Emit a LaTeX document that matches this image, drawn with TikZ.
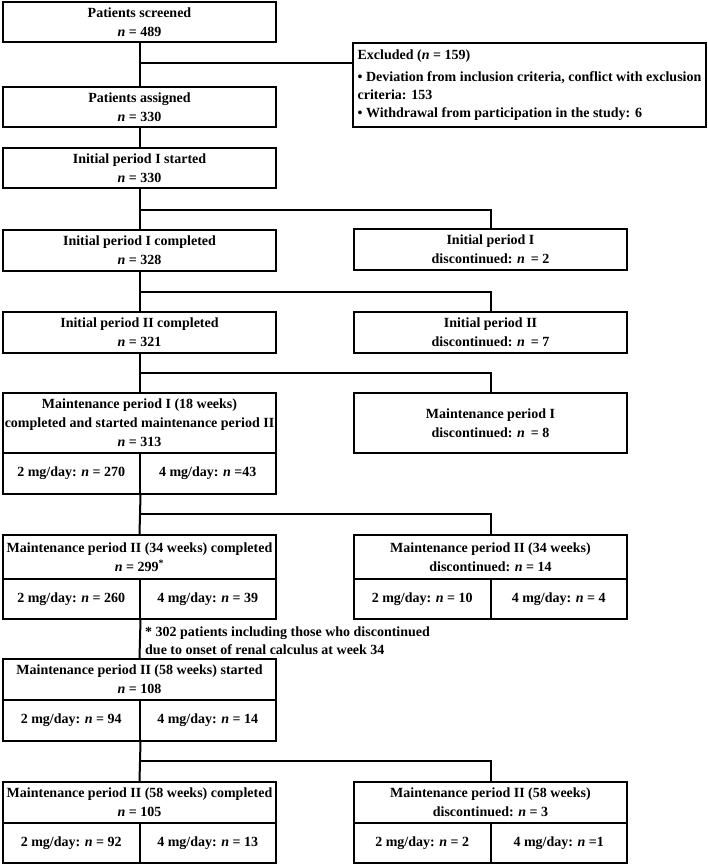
\documentclass[tikz,border=0pt]{standalone}
\usepackage{fontspec}
\setmainfont{Liberation Serif}
\begin{document}
\begin{tikzpicture}[x=1pt,y=-1pt,
  txt/.style={font=\bfseries\fontsize{14}{19}\selectfont},
  box/.style={txt, draw, line width=2pt, minimum width=273pt, align=center, inner sep=0pt},
  cell/.style={txt, draw, line width=2pt, minimum width=136.5pt, minimum height=40pt, inner sep=0pt},
  conn/.style={line width=2pt}
]
\useasboundingbox (0,0) rectangle (708,865);
\newcommand{\nn}{\textit{n}}
% left column
\node[box, minimum height=40pt] (scr) at (139.5,22) {Patients screened\\\nn{} = 489};
\node[box, minimum height=40pt] (asg) at (139.5,107) {Patients assigned\\\nn{} = 330};
\node[box, minimum height=40pt] (ist) at (139.5,168) {Initial period I started\\\nn{} = 330};
\node[box, minimum height=41pt] (ic1) at (139.5,250.5) {Initial period I completed\\\nn{} = 328};
\node[box, minimum height=41pt] (ic2) at (139.5,332) {Initial period II completed\\\nn{} = 321};
\node[box, minimum height=60pt] (m1) at (139.5,423) {Maintenance period I (18 weeks)\\completed and started maintenance period II\\\nn{} = 313};
\node[cell, minimum height=41pt] (m1a) at (71.25,473.5) {2 mg/day: \nn{} = 270};
\node[cell, minimum height=41pt] (m1b) at (207.75,473.5) {4 mg/day: \nn{} =43};
\node[box, minimum height=44pt] (m2) at (139.5,557) {Maintenance period II (34 weeks) completed\\\nn{} = 299\textsuperscript{*}};
\node[cell] (m2a) at (71.25,599) {2 mg/day: \nn{} = 260};
\node[cell] (m2b) at (207.75,599) {4 mg/day: \nn{} = 39};
\node[box, minimum height=41pt] (m3) at (139.5,679.5) {Maintenance period II (58 weeks) started\\\nn{} = 108};
\node[cell, minimum height=41pt] (m3a) at (71.25,720.5) {2 mg/day: \nn{} = 94};
\node[cell, minimum height=41pt] (m3b) at (207.75,720.5) {4 mg/day: \nn{} = 14};
\node[box, minimum height=41pt] (m4) at (139.5,802.5) {Maintenance period II (58 weeks) completed\\\nn{} = 105};
\node[cell] (m4a) at (71.25,843) {2 mg/day: \nn{} = 92};
\node[cell] (m4b) at (207.75,843) {4 mg/day: \nn{} = 13};
% right column
\node[txt, draw, line width=2pt, minimum width=353pt, minimum height=84pt, align=left, inner sep=0pt] (exc) at (529.5,85)
 {Excluded (\nn{} = 159)\\[3pt]
  \textbullet{} Deviation from inclusion criteria, conflict with exclusion\\[-1pt]
  criteria: 153\\[-1pt]
  \textbullet{} Withdrawal from participation in the study: 6};
\node[box, minimum height=41pt] (d1) at (490.5,249.5) {Initial period I\\discontinued: \nn{} \,= 2};
\node[box, minimum height=41pt] (d2) at (490.5,332.5) {Initial period II\\discontinued: \nn{} \,= 7};
\node[box, minimum height=60pt] (d3) at (490.5,423) {Maintenance period I\\discontinued: \nn{} \,= 8};
\node[box, minimum height=44pt] (d4) at (490.5,557) {Maintenance period II (34 weeks)\\discontinued: \nn{} = 14};
\node[cell] (d4a) at (422.25,599) {2 mg/day: \nn{} = 10};
\node[cell] (d4b) at (558.75,599) {4 mg/day: \nn{} = 4};
\node[box, minimum height=41pt] (d5) at (490.5,802.5) {Maintenance period II (58 weeks)\\discontinued: \nn{} = 3};
\node[cell] (d5a) at (422.25,843) {2 mg/day: \nn{} = 2};
\node[cell] (d5b) at (558.75,843) {4 mg/day: \nn{} =1};
% footnote
\node[txt, align=left, anchor=west, inner sep=0pt, font=\bfseries\fontsize{14}{18}\selectfont] (fn) at (145,641)
 {* 302 patients including those who discontinued\\due to onset of renal calculus at week 34};
% branch points
\coordinate (b0) at (139.5,63);
\coordinate (b1) at (139.5,210);
\coordinate (b2) at (139.5,291.5);
\coordinate (b3) at (139.5,372.5);
\coordinate (b4) at (139.5,514);
\coordinate (b5) at (139.5,761);
% connectors
\draw[conn] (scr.south) -- (asg.north);
\draw[conn] (b0) -- (b0 -| exc.west);
\draw[conn] (asg.south) -- (ist.north);
\draw[conn] (ist.south) -- (ic1.north);
\draw[conn] (b1) -- (b1 -| d1.north) -- (d1.north);
\draw[conn] (ic1.south) -- (ic2.north);
\draw[conn] (b2) -- (b2 -| d2.north) -- (d2.north);
\draw[conn] (ic2.south) -- (m1.north);
\draw[conn] (b3) -- (b3 -| d3.north) -- (d3.north);
\draw[conn] (m1a.south east) -- (m2.north);
\draw[conn] (b4) -- (b4 -| d4.north) -- (d4.north);
\draw[conn] (m2a.south east) -- (m3.north);
\draw[conn] (m3a.south east) -- (m4.north);
\draw[conn] (b5) -- (b5 -| d5.north) -- (d5.north);
\end{tikzpicture}
\end{document}
